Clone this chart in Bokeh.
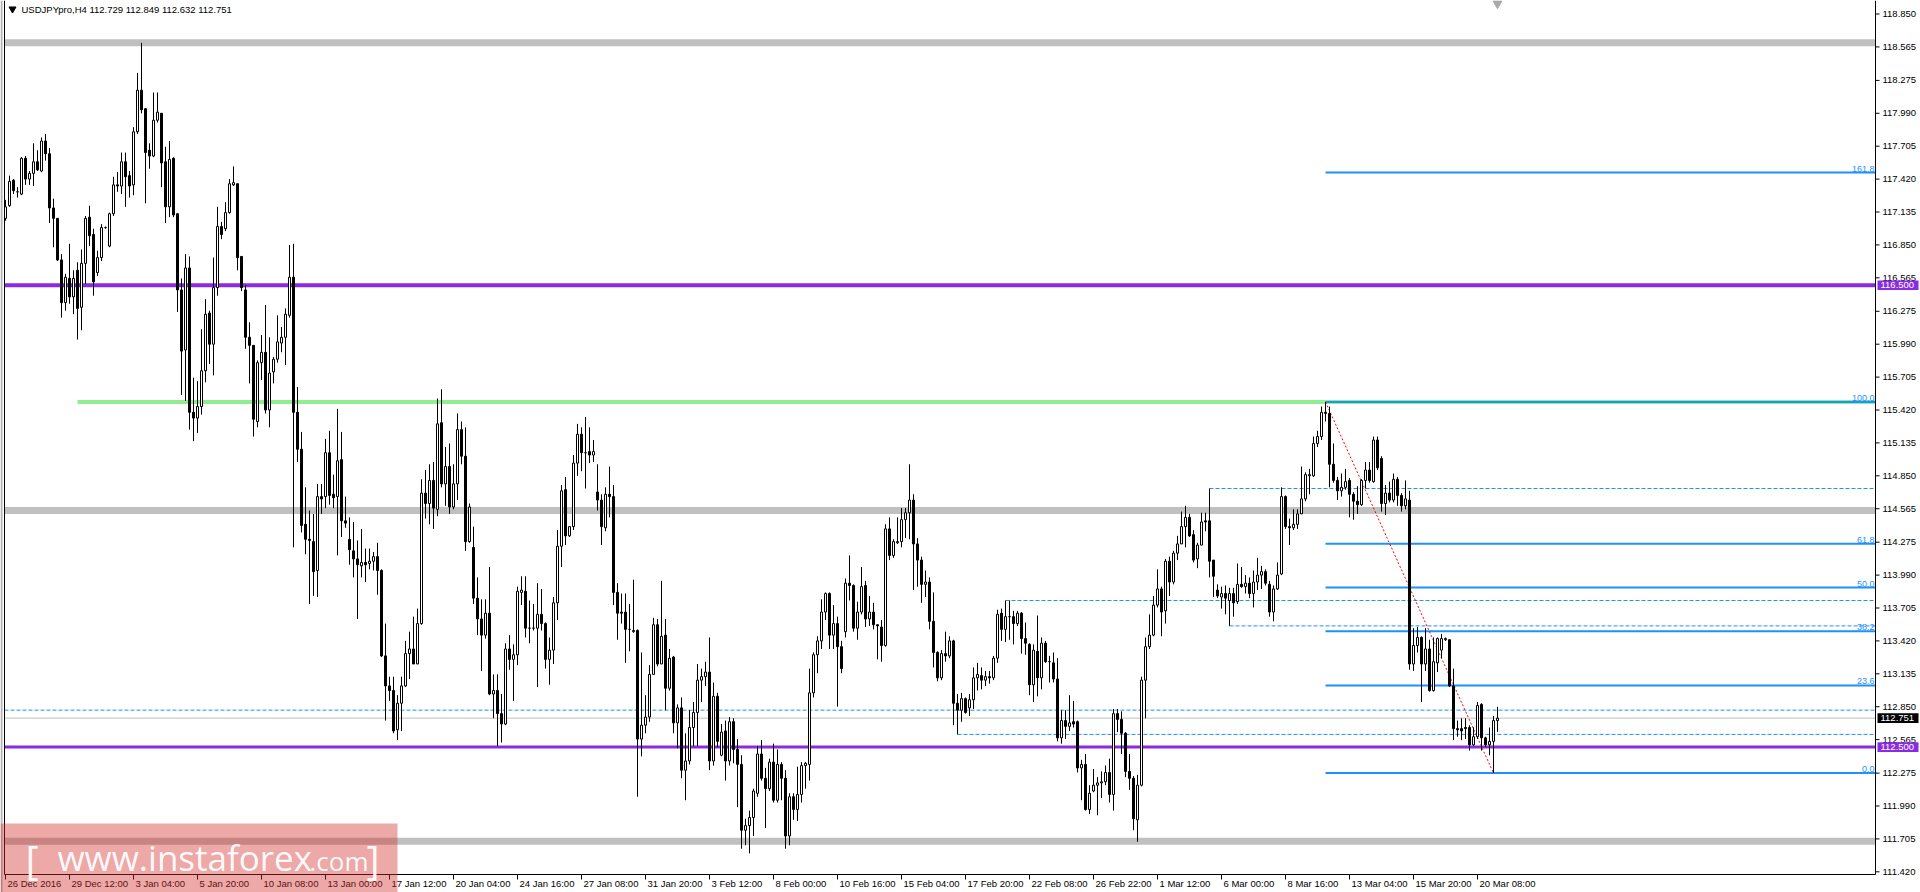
from bokeh.plotting import figure
from bokeh.models import Range1d, ColumnDataSource
from bokeh.core.properties import value
from bokeh.embed import file_html
from bokeh.resources import INLINE

# ---------------- data ----------------
SYMBOL = "USDJPYpro,H4"

opens = [
    117.08, 117.19, 117.41, 117.31, 117.29, 117.60, 117.42, 117.47, 117.57, 117.49,
    117.75, 117.64, 117.17, 117.08, 116.72, 116.35, 116.56, 116.40, 116.63, 116.31,
    116.69, 117.09, 116.94, 116.61, 116.74, 117.00, 116.84, 117.12, 117.37, 117.36,
    117.57, 117.45, 117.37, 117.83, 118.19, 118.03, 117.67, 117.62, 117.93, 117.99,
    117.57, 117.18, 117.60, 117.12, 116.46, 115.94, 116.65, 115.40, 115.35, 115.45,
    115.76, 116.26, 115.99, 116.48, 117.01, 116.99, 117.13, 117.37, 117.38, 116.75,
    116.46, 116.05, 115.98, 115.32, 115.83, 115.92, 115.42, 115.75, 115.86, 116.00,
    116.05, 116.24, 116.57, 115.40, 115.08, 114.43, 114.30, 114.28, 114.03, 114.67,
    114.67, 115.05, 114.69, 114.67, 114.99, 114.46, 114.30, 114.20, 114.13, 114.07,
    114.10, 114.09, 114.11, 114.15, 114.03, 113.29, 113.03, 112.99, 112.65, 112.88,
    113.03, 113.31, 113.35, 113.22, 113.57, 114.70, 114.61, 114.81, 114.56, 115.31,
    114.78, 114.93, 114.58, 114.78, 115.25, 115.02, 114.28, 114.23, 113.79, 113.61,
    113.47, 113.66, 112.96, 112.99, 112.79, 112.70, 113.35, 113.26, 113.30, 113.84,
    113.85, 113.53, 113.53, 113.53, 113.65, 113.57, 113.26, 113.34, 113.75, 114.24,
    114.73, 114.33, 114.41, 114.96, 115.21, 115.05, 115.06, 115.03, 114.71, 114.64,
    114.40, 114.69, 114.67, 113.84, 113.67, 113.67, 113.52, 113.50, 113.51, 112.57,
    112.69, 112.76, 113.13, 113.56, 113.22, 113.47, 113.01, 113.28, 112.71, 112.84,
    112.30, 112.38, 112.67, 112.80, 113.08, 113.11, 113.15, 112.38, 112.94, 112.43,
    112.64, 112.38, 112.72, 112.48, 112.35, 111.78, 111.82, 111.89, 112.10, 112.44,
    112.23, 112.14, 112.37, 112.04, 112.35, 112.23, 111.73, 112.07, 111.96, 112.09,
    112.34, 112.35, 112.97, 113.30, 113.42, 113.67, 113.83, 113.47, 113.57, 113.37,
    113.50, 113.92, 113.90, 113.53, 113.67, 113.90, 113.61, 113.67, 113.56, 113.54,
    113.38, 114.39, 114.16, 114.27, 114.28, 114.47, 114.53, 114.64, 114.26, 114.12,
    113.91, 113.93, 113.59, 113.32, 113.10, 113.31, 113.29, 113.42, 112.88, 112.82,
    112.92, 112.84, 112.91, 113.10, 113.12, 113.08, 113.11, 113.10, 113.27, 113.66,
    113.52, 113.63, 113.63, 113.57, 113.66, 113.44, 113.39, 113.04, 113.33, 113.10,
    113.40, 113.24, 113.23, 113.09, 112.58, 112.73, 112.68, 112.72, 112.72, 112.32,
    112.35, 111.96, 112.12, 112.17, 112.19, 112.20, 112.28, 112.09, 112.79, 112.74,
    112.62, 112.29, 112.23, 111.87, 112.17, 113.08, 113.37, 113.47, 113.73, 113.87,
    113.68, 114.11, 113.93, 114.18, 114.26, 114.41, 114.49, 114.34, 114.13, 114.25,
    114.46, 114.46, 114.12, 113.86, 113.80, 113.83, 113.77, 113.83, 113.76, 113.91,
    113.89, 113.92, 113.83, 113.93, 113.99, 114.02, 113.91, 113.67, 113.87, 114.00,
    114.67, 114.41, 114.40, 114.43, 114.52, 114.65, 114.85, 114.85, 115.13, 115.19,
    115.40, 115.39, 114.95, 114.81, 114.72, 114.75, 114.81, 114.69, 114.63, 114.60,
    114.81, 114.90, 114.80, 115.16, 115.00, 114.61, 114.70, 114.64, 114.82, 114.68,
    114.59, 114.64, 113.22, 113.38, 113.45, 113.22, 113.35, 112.99, 113.23, 113.34,
    113.43, 113.43, 113.03, 112.66, 112.66, 112.67, 112.67, 112.52, 112.59, 112.87,
    112.58, 112.52, 112.55, 112.729,
]

highs = [
    117.24, 117.45, 117.42, 117.35, 117.61, 117.62, 117.49, 117.73, 117.67, 117.78,
    117.81, 117.69, 117.25, 117.08, 116.77, 116.60, 116.86, 116.63, 116.70, 116.81,
    117.10, 117.19, 116.99, 116.80, 117.03, 117.01, 117.13, 117.44, 117.48, 117.65,
    117.65, 117.49, 117.87, 118.34, 118.60, 118.03, 117.73, 118.17, 118.17, 117.99,
    117.70, 117.75, 117.61, 117.12, 116.56, 116.77, 116.75, 115.70, 115.67, 116.12,
    116.38, 116.28, 116.74, 117.18, 117.05, 117.22, 117.42, 117.53, 117.38, 116.75,
    116.50, 116.18, 115.98, 115.85, 116.07, 116.33, 116.05, 115.88, 116.24, 116.14,
    116.30, 116.85, 116.86, 115.62, 115.23, 114.75, 114.55, 114.52, 114.78, 114.78,
    115.17, 115.24, 114.86, 115.43, 115.23, 114.67, 114.49, 114.45, 114.29, 114.39,
    114.22, 114.22, 114.19, 114.27, 114.04, 113.57, 113.11, 113.11, 112.95, 113.11,
    113.42, 113.50, 113.63, 113.70, 114.82, 114.90, 114.95, 114.97, 115.52, 115.60,
    115.10, 115.13, 114.95, 115.39, 115.32, 115.27, 114.61, 114.41, 113.97, 113.78,
    113.78, 114.06, 113.13, 113.13, 112.96, 113.40, 113.47, 113.39, 113.89, 113.98,
    113.98, 113.77, 113.74, 113.92, 113.87, 113.58, 113.45, 113.80, 114.38, 114.77,
    114.84, 114.41, 115.03, 115.30, 115.27, 115.36, 115.27, 115.16, 114.95, 114.69,
    114.75, 114.93, 114.77, 113.92, 113.83, 113.83, 113.74, 113.95, 113.52, 113.32,
    112.95, 113.21, 113.62, 113.61, 113.94, 113.61, 113.35, 113.29, 112.87, 112.93,
    112.62, 112.82, 112.89, 113.22, 113.18, 113.24, 113.45, 113.06, 112.97, 112.70,
    112.73, 112.76, 112.75, 112.57, 112.43, 111.88, 111.95, 112.14, 112.51, 112.56,
    112.32, 112.40, 112.53, 112.48, 112.37, 112.30, 112.10, 112.10, 112.33, 112.37,
    112.37, 113.18, 113.32, 113.46, 113.78, 113.84, 113.84, 113.73, 113.63, 113.42,
    113.96, 114.16, 113.91, 113.76, 114.06, 113.94, 113.81, 113.75, 113.56, 113.60,
    114.43, 114.49, 114.30, 114.49, 114.57, 114.57, 114.95, 114.69, 114.31, 114.15,
    114.03, 113.97, 113.84, 113.33, 113.34, 113.50, 113.46, 113.43, 112.96, 112.97,
    112.93, 112.96, 113.19, 113.23, 113.19, 113.16, 113.16, 113.29, 113.69, 113.70,
    113.77, 113.77, 113.68, 113.68, 113.67, 113.58, 113.40, 113.39, 113.64, 113.45,
    113.42, 113.29, 113.32, 113.27, 112.82, 112.82, 112.95, 112.90, 112.73, 112.39,
    112.44, 112.17, 112.31, 112.24, 112.29, 112.34, 112.40, 112.83, 112.83, 112.81,
    112.63, 112.44, 112.25, 112.26, 113.11, 113.45, 113.65, 113.81, 114.04, 113.89,
    114.13, 114.15, 114.20, 114.33, 114.54, 114.59, 114.52, 114.38, 114.27, 114.53,
    114.53, 114.74, 114.12, 113.91, 113.89, 113.90, 113.88, 113.88, 114.09, 114.06,
    113.99, 113.97, 114.03, 114.14, 114.07, 114.04, 113.94, 113.90, 114.10, 114.75,
    114.68, 114.48, 114.56, 114.56, 114.93, 114.88, 114.91, 115.19, 115.24, 115.45,
    115.49, 115.45, 115.13, 114.84, 114.87, 114.91, 114.83, 114.71, 114.76, 114.82,
    114.97, 114.97, 115.19, 115.19, 115.02, 114.77, 114.80, 114.87, 114.84, 114.70,
    114.81, 114.72, 113.53, 113.54, 113.46, 113.53, 113.43, 113.45, 113.45, 113.48,
    113.45, 113.43, 113.18, 112.73, 112.75, 112.75, 112.69, 112.67, 112.89, 112.88,
    112.59, 112.67, 112.77, 112.849,
]

lows = [
    117.06, 117.18, 117.29, 117.26, 117.28, 117.37, 117.37, 117.36, 117.49, 117.48,
    117.58, 117.04, 116.83, 116.71, 116.22, 116.28, 116.34, 116.25, 116.03, 116.11,
    116.51, 116.84, 116.41, 116.58, 116.71, 116.99, 116.83, 117.10, 117.31, 117.29,
    117.18, 117.26, 117.28, 117.81, 117.99, 117.21, 117.51, 117.61, 117.91, 117.35,
    117.04, 117.09, 117.09, 116.27, 115.55, 115.50, 115.25, 115.15, 115.22, 115.38,
    115.66, 115.82, 115.72, 116.41, 116.90, 116.97, 117.12, 117.36, 116.63, 116.45,
    115.95, 115.65, 115.19, 115.27, 115.68, 115.39, 115.27, 115.65, 115.83, 115.92,
    115.81, 116.22, 114.23, 114.97, 114.36, 114.17, 113.74, 113.81, 113.80, 114.52,
    114.57, 114.60, 114.57, 114.16, 114.32, 114.40, 114.08, 113.97, 113.61, 113.97,
    113.93, 114.04, 114.03, 113.82, 113.28, 112.73, 112.90, 112.62, 112.56, 112.64,
    113.02, 113.09, 113.22, 113.22, 113.56, 114.48, 114.43, 114.39, 114.50, 114.75,
    114.59, 114.52, 114.56, 114.64, 114.95, 114.20, 114.27, 113.74, 113.47, 113.16,
    113.44, 112.95, 112.75, 112.51, 112.54, 112.69, 113.17, 112.90, 113.21, 113.73,
    113.45, 113.40, 113.51, 113.02, 113.51, 113.18, 113.04, 113.22, 113.60, 114.06,
    114.25, 114.32, 114.38, 114.85, 114.89, 114.74, 114.96, 114.97, 114.55, 114.25,
    114.37, 114.49, 113.73, 113.43, 113.57, 113.23, 113.33, 113.49, 112.07, 112.42,
    112.62, 112.72, 113.13, 113.20, 113.22, 112.82, 112.99, 112.62, 112.49, 112.23,
    112.04, 112.35, 112.51, 112.51, 112.89, 113.03, 112.30, 112.34, 112.50, 112.42,
    112.21, 112.34, 112.36, 111.98, 111.62, 111.65, 111.58, 111.73, 112.07, 112.21,
    111.80, 112.12, 112.02, 112.02, 112.04, 111.62, 111.65, 111.87, 111.86, 112.02,
    112.14, 112.21, 112.93, 113.14, 113.35, 113.60, 113.35, 113.35, 112.85, 113.14,
    113.45, 113.77, 113.50, 113.43, 113.65, 113.54, 113.55, 113.52, 113.26, 113.24,
    113.37, 114.12, 114.14, 114.26, 114.23, 114.31, 114.30, 113.86, 113.89, 113.75,
    113.80, 113.52, 113.19, 113.07, 113.08, 113.24, 113.27, 112.69, 112.61, 112.72,
    112.79, 112.77, 112.83, 112.99, 113.00, 113.03, 113.05, 113.08, 113.23, 113.42,
    113.41, 113.43, 113.39, 113.55, 113.31, 113.30, 112.95, 112.89, 112.94, 113.00,
    113.23, 113.06, 113.06, 112.55, 112.53, 112.57, 112.64, 112.67, 112.28, 112.04,
    111.95, 111.92, 112.11, 111.91, 112.06, 112.17, 112.02, 111.95, 112.63, 112.44,
    112.24, 112.13, 111.78, 111.68, 112.16, 112.75, 113.35, 113.46, 113.71, 113.46,
    113.57, 113.81, 113.91, 114.12, 114.26, 114.23, 114.32, 114.10, 114.05, 114.25,
    114.37, 113.97, 113.80, 113.79, 113.70, 113.65, 113.55, 113.63, 113.74, 113.88,
    113.83, 113.79, 113.71, 113.86, 113.87, 113.90, 113.63, 113.59, 113.86, 113.99,
    114.39, 114.25, 114.38, 114.39, 114.52, 114.63, 114.69, 114.84, 115.10, 115.16,
    115.32, 114.75, 114.79, 114.64, 114.67, 114.73, 114.49, 114.47, 114.52, 114.59,
    114.74, 114.79, 114.79, 114.90, 114.54, 114.51, 114.62, 114.62, 114.59, 114.54,
    114.56, 113.17, 113.16, 113.32, 112.89, 113.16, 112.98, 112.98, 113.15, 113.27,
    113.42, 113.02, 112.56, 112.59, 112.56, 112.57, 112.47, 112.51, 112.57, 112.47,
    112.50, 112.43, 112.275, 112.632,
]

closes = [
    117.18, 117.40, 117.32, 117.31, 117.60, 117.42, 117.47, 117.57, 117.50, 117.75,
    117.64, 117.17, 117.08, 116.72, 116.35, 116.57, 116.40, 116.56, 116.30, 116.69,
    117.08, 116.93, 116.53, 116.74, 117.00, 117.00, 117.12, 117.37, 117.36, 117.57,
    117.44, 117.36, 117.83, 118.19, 118.02, 117.65, 117.62, 117.93, 118.00, 117.56,
    117.18, 117.59, 117.11, 116.46, 115.93, 116.65, 115.40, 115.35, 115.45, 115.76,
    116.25, 115.99, 116.48, 117.01, 116.94, 117.13, 117.38, 117.39, 116.74, 116.48,
    116.05, 115.98, 115.34, 115.83, 115.92, 115.42, 115.74, 115.86, 116.01, 116.05,
    116.25, 116.57, 115.40, 115.08, 114.42, 114.30, 114.29, 114.02, 114.67, 114.65,
    115.05, 114.68, 114.66, 114.98, 114.46, 114.44, 114.21, 114.13, 114.08, 114.10,
    114.08, 114.11, 114.15, 114.03, 113.29, 113.03, 112.99, 112.64, 112.88, 113.03,
    113.31, 113.35, 113.22, 113.57, 114.70, 114.61, 114.81, 114.57, 115.30, 114.78,
    114.93, 114.58, 114.78, 115.25, 115.02, 114.28, 114.58, 113.79, 113.61, 113.47,
    113.66, 112.96, 112.99, 112.79, 112.70, 113.35, 113.26, 113.30, 113.85, 113.86,
    113.53, 113.53, 113.53, 113.65, 113.57, 113.26, 113.34, 113.75, 114.24, 114.72,
    114.33, 114.41, 114.96, 115.21, 115.05, 115.05, 115.03, 115.06, 114.64, 114.41,
    114.69, 114.67, 113.84, 113.66, 113.66, 113.52, 113.52, 113.51, 112.57, 112.69,
    112.76, 113.13, 113.56, 113.22, 113.46, 113.01, 113.27, 112.71, 112.84, 112.30,
    112.38, 112.67, 112.80, 113.08, 113.11, 113.15, 112.38, 112.94, 112.55, 112.63,
    112.38, 112.72, 112.48, 112.35, 111.78, 111.82, 111.89, 112.12, 112.44, 112.23,
    112.14, 112.37, 112.04, 112.35, 112.23, 111.73, 112.07, 111.96, 112.09, 112.34,
    112.36, 112.97, 113.30, 113.42, 113.67, 113.83, 113.47, 113.57, 113.37, 113.18,
    113.92, 113.90, 113.53, 113.67, 113.89, 113.61, 113.67, 113.56, 113.55, 113.38,
    114.39, 114.16, 114.28, 114.28, 114.47, 114.53, 114.64, 114.26, 114.12, 113.91,
    113.93, 113.59, 113.32, 113.10, 113.31, 113.29, 113.42, 112.88, 112.82, 112.92,
    112.80, 112.91, 113.10, 113.13, 113.08, 113.11, 113.10, 113.27, 113.65, 113.52,
    113.63, 113.63, 113.57, 113.66, 113.44, 113.40, 113.04, 113.34, 113.10, 113.40,
    113.24, 113.24, 113.09, 112.58, 112.73, 112.68, 112.71, 112.70, 112.32, 112.35,
    111.96, 112.10, 112.17, 112.19, 112.20, 112.28, 112.09, 112.79, 112.74, 112.62,
    112.29, 112.23, 111.88, 112.17, 113.08, 113.37, 113.47, 113.73, 113.87, 113.67,
    114.11, 113.93, 114.18, 114.26, 114.41, 114.49, 114.33, 114.12, 114.25, 114.45,
    114.45, 114.11, 113.98, 113.81, 113.83, 113.79, 113.83, 113.75, 113.91, 113.89,
    113.92, 113.83, 113.93, 113.99, 114.02, 113.92, 113.67, 113.87, 113.99, 114.67,
    114.41, 114.40, 114.43, 114.52, 114.65, 114.86, 114.86, 115.13, 115.19, 115.40,
    115.39, 114.95, 114.81, 114.72, 114.75, 114.80, 114.69, 114.63, 114.60, 114.81,
    114.90, 114.81, 115.16, 114.92, 114.61, 114.70, 114.64, 114.82, 114.68, 114.59,
    114.65, 113.22, 113.38, 113.45, 113.22, 113.35, 112.99, 113.24, 113.44, 113.44,
    113.44, 113.03, 112.66, 112.65, 112.64, 112.66, 112.52, 112.59, 112.86, 112.58,
    112.52, 112.55, 112.73, 112.751,
]

date_labels = [
    "26 Dec 2016", "29 Dec 12:00", "3 Jan 04:00", "5 Jan 20:00", "10 Jan 08:00",
    "13 Jan 00:00", "17 Jan 12:00", "20 Jan 04:00", "24 Jan 16:00", "27 Jan 08:00",
    "31 Jan 20:00", "3 Feb 12:00", "8 Feb 00:00", "10 Feb 16:00", "15 Feb 04:00",
    "17 Feb 20:00", "22 Feb 08:00", "26 Feb 22:00", "1 Mar 12:00", "6 Mar 00:00",
    "8 Mar 16:00", "13 Mar 04:00", "15 Mar 20:00", "20 Mar 08:00",
]
BARS_PER_DATE_LABEL = 16

price_ticks = [
    118.850, 118.565, 118.275, 117.990, 117.705, 117.420, 117.135, 116.850, 116.565,
    116.275, 115.990, 115.705, 115.420, 115.135, 114.850, 114.565, 114.275, 113.990,
    113.705, 113.420, 113.135, 112.850, 112.565, 112.275, 111.990, 111.705, 111.420,
]

gray_levels = [118.60, 114.55, 111.685]
purple_levels = [116.50, 112.50]
green_level = 115.49
green_start_bar = 18
dashed_levels = [114.74, 113.77, 113.55, 112.82, 112.61]
dashed_start_bars = [301, 250, 306, None, 238]
fib_ratios = [0.0, 23.6, 38.2, 50.0, 61.8, 100.0, 161.8]
fib_high_bar = 330
fib_low_bar = 372

# ---------------- layout / styles ----------------
W, H = 1920, 892
PX_PER_PRICE = 115.45          # pixels per price unit
TOP_PRICE = 118.967            # price at the top edge of the canvas
BAR_PX = 4.0                   # pixels per bar
BAR0_PX = 5.0                  # pixel x of bar 0


def ry(Y):
    return TOP_PRICE - Y / PX_PER_PRICE


def rx(X):
    return (X - BAR0_PX) / BAR_PX


AXIS_X = rx(1875)      # price scale line
LEFT_X = rx(4)         # chart left border
AXIS_Y = ry(874)       # time scale line
EXT0 = LEFT_X

FONT = "Liberation Sans"
PURPLE = "#8A2BE2"
BLUE = "#1E90FF"
SILVER = "#C0C0C0"
GREEN = "#90EE90"

p = figure(width=W, height=H, x_range=Range1d(rx(0), rx(W)), y_range=Range1d(ry(H), ry(0)),
           x_axis_location=None, y_axis_location=None, toolbar_location=None,
           output_backend="svg", min_border=0)
p.outline_line_color = None
p.grid.grid_line_color = None
p.background_fill_color = "white"
p.border_fill_color = "white"

# ---- horizontal objects ----
p.segment(x0=[EXT0] * len(gray_levels), x1=[AXIS_X] * len(gray_levels),
          y0=gray_levels, y1=gray_levels, line_color=SILVER, line_width=7)

p.segment(x0=[green_start_bar], x1=[AXIS_X], y0=[green_level], y1=[green_level],
          line_color=GREEN, line_width=4)

p.segment(x0=[EXT0] * len(purple_levels), x1=[AXIS_X] * len(purple_levels),
          y0=purple_levels, y1=purple_levels, line_color=PURPLE, line_width=[4, 3])

d_x0 = [EXT0 if b is None else b for b in dashed_start_bars]
p.segment(x0=d_x0, x1=[AXIS_X] * len(dashed_levels), y0=dashed_levels, y1=dashed_levels,
          line_color=BLUE, line_width=1, line_dash="4 2")

last_close = closes[-1]
p.segment(x0=[EXT0], x1=[AXIS_X], y0=[last_close], y1=[last_close], line_color=SILVER, line_width=1)

fib_high = highs[fib_high_bar]
fib_low = lows[fib_low_bar]
fib_levels = [fib_low + r / 100.0 * (fib_high - fib_low) for r in fib_ratios]
p.segment(x0=[fib_high_bar] * len(fib_levels), x1=[AXIS_X] * len(fib_levels),
          y0=fib_levels, y1=fib_levels, line_color=BLUE, line_width=2)
p.text(x=[AXIS_X] * len(fib_levels), y=fib_levels, text=["%.1f" % r for r in fib_ratios],
       text_align="right", text_baseline="bottom", x_offset=-1, y_offset=-1,
       text_font=value(FONT), text_font_size="9px", text_color=BLUE)

p.line(x=[fib_high_bar, fib_low_bar], y=[fib_high, fib_low], line_color="red",
       line_width=1, line_dash="2 2")

# ---- candles ----
n = len(closes)
xs = list(range(n))
src = ColumnDataSource(dict(
    x=xs, high=highs, low=lows,
    top=[max(o, c) for o, c in zip(opens, closes)],
    bottom=[min(o, c) for o, c in zip(opens, closes)],
    fill=["white" if c >= o else "black" for o, c in zip(opens, closes)],
))
p.segment(x0="x", y0="high", x1="x", y1="low", source=src, line_color="black", line_width=1)
p.vbar(x="x", width=0.5, top="top", bottom="bottom", source=src,
       fill_color="fill", line_color="black", line_width=1)

# ---- chart borders ----
p.segment(x0=[rx(1)], x1=[rx(1)], y0=[ry(H)], y1=[ry(0)], line_color="#B4B4B4", line_width=2)
p.segment(x0=[LEFT_X], x1=[LEFT_X], y0=[AXIS_Y], y1=[ry(0)], line_color="black", line_width=1)
p.segment(x0=[LEFT_X], x1=[AXIS_X], y0=[AXIS_Y], y1=[AXIS_Y], line_color="black", line_width=1)

# ---- price scale (right) ----
npt = len(price_ticks)
p.segment(x0=[AXIS_X], x1=[AXIS_X], y0=[AXIS_Y], y1=[ry(0)], line_color="black", line_width=1)
p.segment(x0=[AXIS_X] * npt, x1=[rx(1879)] * npt, y0=price_ticks, y1=price_ticks,
          line_color="black", line_width=1)
p.text(x=[rx(1882)] * npt, y=price_ticks, text=["%.3f" % t for t in price_ticks],
       text_align="left", text_baseline="middle", text_font=value(FONT),
       text_font_size="9.5px", text_color="black")

# price boxes on the scale
box_levels = [purple_levels[0], last_close, purple_levels[1]]
box_colors = [PURPLE, "black", PURPLE]
half_h = 4.8 / PX_PER_PRICE
p.quad(left=[rx(1877)] * 3, right=[rx(1918)] * 3,
       top=[v + half_h for v in box_levels], bottom=[v - half_h for v in box_levels],
       fill_color=box_colors, line_color=None)
p.text(x=[rx(1880)] * 3, y=box_levels, text=["%.3f" % v for v in box_levels],
       text_align="left", text_baseline="middle", text_font=value(FONT),
       text_font_size="9.5px", text_color="white")

# ---- time scale (bottom) ----
date_bars = [BARS_PER_DATE_LABEL * k for k in range(len(date_labels))]
nd = len(date_bars)
p.segment(x0=date_bars, x1=date_bars, y0=[AXIS_Y] * nd, y1=[ry(879)] * nd,
          line_color="black", line_width=1)
p.text(x=date_bars, y=[ry(882.5)] * nd, text=date_labels, text_align="left",
       text_baseline="middle", x_offset=2, text_font=value(FONT),
       text_font_size="9.5px", text_color="black")

# ---- header ----
p.scatter(x=[rx(12)], y=[ry(8.5)], marker="inverted_triangle", size=7,
          fill_color="black", line_color="black")
header = "%s  %.3f %.3f %.3f %.3f" % (SYMBOL, opens[-1], highs[-1], lows[-1], closes[-1])
p.text(x=[rx(21)], y=[ry(8.7)], text=[header], text_align="left", text_baseline="middle",
       text_font=value(FONT), text_font_size="9.5px", text_color="black")
p.scatter(x=[n - 1], y=[ry(3)], marker="inverted_triangle", size=9,
          fill_color="#A9A9A9", line_color="#A9A9A9")

# ---- watermark ----
p.quad(left=[rx(0)], right=[rx(397)], top=[ry(823)], bottom=[ry(H)],
       fill_color="#D32B2B", fill_alpha=0.41, line_color=None)
p.text(x=[rx(25), rx(366)], y=[ry(859), ry(859)], text=["[", "]"], text_align="left",
       text_baseline="middle", text_font=value("Open Sans"), text_font_size="40px",
       text_color="white", text_alpha=0.95)
p.text(x=[rx(57)], y=[ry(857)], text=["www.instaforex"], text_align="left",
       text_baseline="middle", text_font=value("Open Sans"), text_font_size="35px",
       text_color="white", text_alpha=0.95)
p.text(x=[rx(309)], y=[ry(860)], text=[".com"], text_align="left",
       text_baseline="middle", text_font=value("Open Sans"), text_font_size="26px",
       text_color="white", text_alpha=0.95)

open("out.html", "w").write(file_html(p, INLINE))
